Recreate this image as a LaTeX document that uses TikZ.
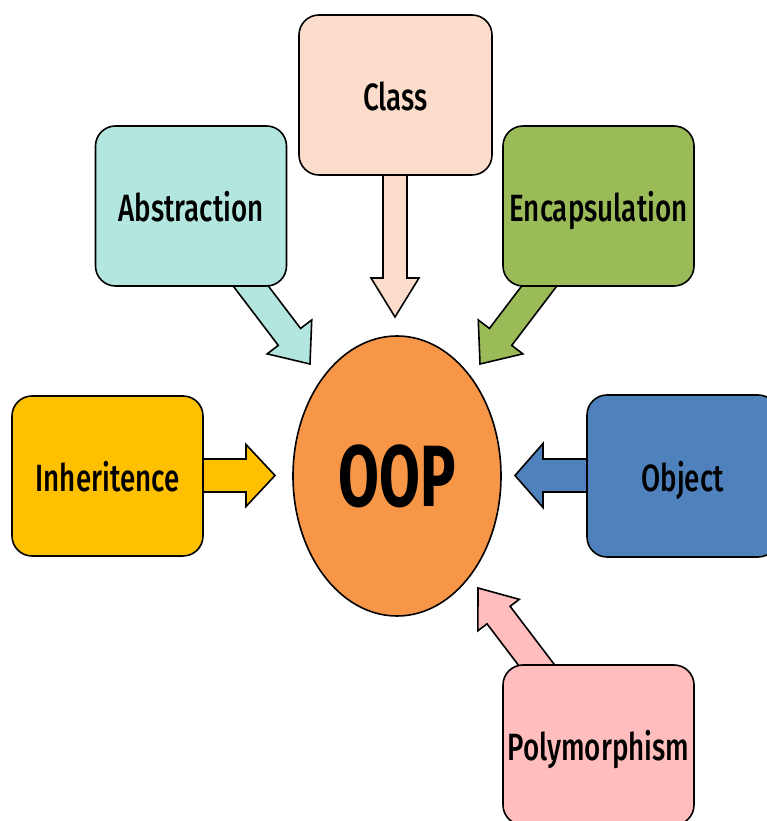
\documentclass[tikz,border=0pt]{standalone}
\usepackage{fontspec}
\usetikzlibrary{calc,shapes.geometric}
\newfontfamily\labelfont[FakeStretch=0.73, UprightFont={* Medium}]{Fira Sans}
\newfontfamily\corefont[FakeStretch=0.68]{Fira Sans}

\definecolor{classfill}{HTML}{FCDCCA}
\definecolor{abstrfill}{HTML}{B2E6DF}
\definecolor{encapfill}{HTML}{9BBB59}
\definecolor{inherfill}{HTML}{FFC000}
\definecolor{objfill}{HTML}{4F81BD}
\definecolor{polyfill}{HTML}{FFBDBD}
\definecolor{oopfill}{HTML}{F79646}

\tikzset{
  conceptbox/.style={draw=black, line width=1.6pt, rounded corners=20pt,
    minimum width=191pt, minimum height=160pt, inner sep=0pt,
    text height=34pt, text depth=2pt,
    font=\labelfont\fontsize{38}{40}\selectfont},
  corenode/.style={draw=black, line width=1.6pt, ellipse, minimum width=208pt,
    minimum height=280pt, inner sep=0pt, fill=oopfill,
    font=\corefont\bfseries\fontsize{87}{90}\selectfont},
  arrowline/.style={draw=black, line width=1.6pt, line join=miter}
}

% Block arrow: #1 fill, #2 start, #3 tip, #4 shaft half width,
% #5 head half width, #6 head length
\newcommand\blockarrow[6]{%
  \coordinate (ba-s) at ($(#2)!-12pt!(#3)$);
  \coordinate (ba-h) at ($(#3)!#6!(#2)$);
  \path[arrowline, fill=#1]
    ($(ba-s)!#4!90:(#3)$) -- ($(ba-h)!#4!90:(#3)$) --
    ($(ba-h)!#5!90:(#3)$) -- (#3) --
    ($(ba-h)!#5!-90:(#3)$) -- ($(ba-h)!#4!-90:(#3)$) --
    ($(ba-s)!#4!-90:(#3)$) -- cycle;
}

\begin{document}
\begin{tikzpicture}[x=1pt, y=1pt]
  \useasboundingbox (0,0) rectangle (767,821);
  \clip (0,0) rectangle (767,821);

  % arrow end points
  \coordinate (abs-s) at (251.5,534);  \coordinate (abs-t) at (310,457);
  \coordinate (enc-s) at (538.5,534);  \coordinate (enc-t) at (480,457);
  \coordinate (cls-s) at (395,646);    \coordinate (cls-t) at (395,504);
  \coordinate (inh-s) at (203,345.5);  \coordinate (inh-t) at (275,345.5);
  \coordinate (obj-s) at (587,345.5);  \coordinate (obj-t) at (515,345.5);
  \coordinate (pol-s) at (536.5,156);  \coordinate (pol-t) at (478,233);

  % block arrows pointing at the core concept
  \blockarrow{abstrfill}{abs-s}{abs-t}{14pt}{28pt}{34pt}
  \blockarrow{encapfill}{enc-s}{enc-t}{14pt}{28pt}{34pt}
  \blockarrow{classfill}{cls-s}{cls-t}{12pt}{24pt}{39pt}
  \blockarrow{inherfill}{inh-s}{inh-t}{16.5pt}{31pt}{29pt}
  \blockarrow{objfill}{obj-s}{obj-t}{16.5pt}{32pt}{28pt}
  \blockarrow{polyfill}{pol-s}{pol-t}{14.5pt}{26pt}{34pt}

  % concept boxes
  \node[conceptbox, fill=classfill, minimum width=193pt] (class) at (395.5,726) {Class};
  \node[conceptbox, fill=abstrfill] (abstraction) at (191,615) {Abstraction};
  \node[conceptbox, fill=encapfill] (encapsulation) at (598.5,615) {Encapsulation};
  \node[conceptbox, fill=inherfill] (inheritence) at (107.5,345) {Inheritence};
  \node[conceptbox, fill=objfill, minimum height=162pt] (object) at (682.5,345) {Object};
  \node[conceptbox, fill=polyfill] (polymorphism) at (598.5,76) {Polymorphism};

  % core concept
  \node[corenode] (oop) at (397,345) {OOP};
\end{tikzpicture}
\end{document}
